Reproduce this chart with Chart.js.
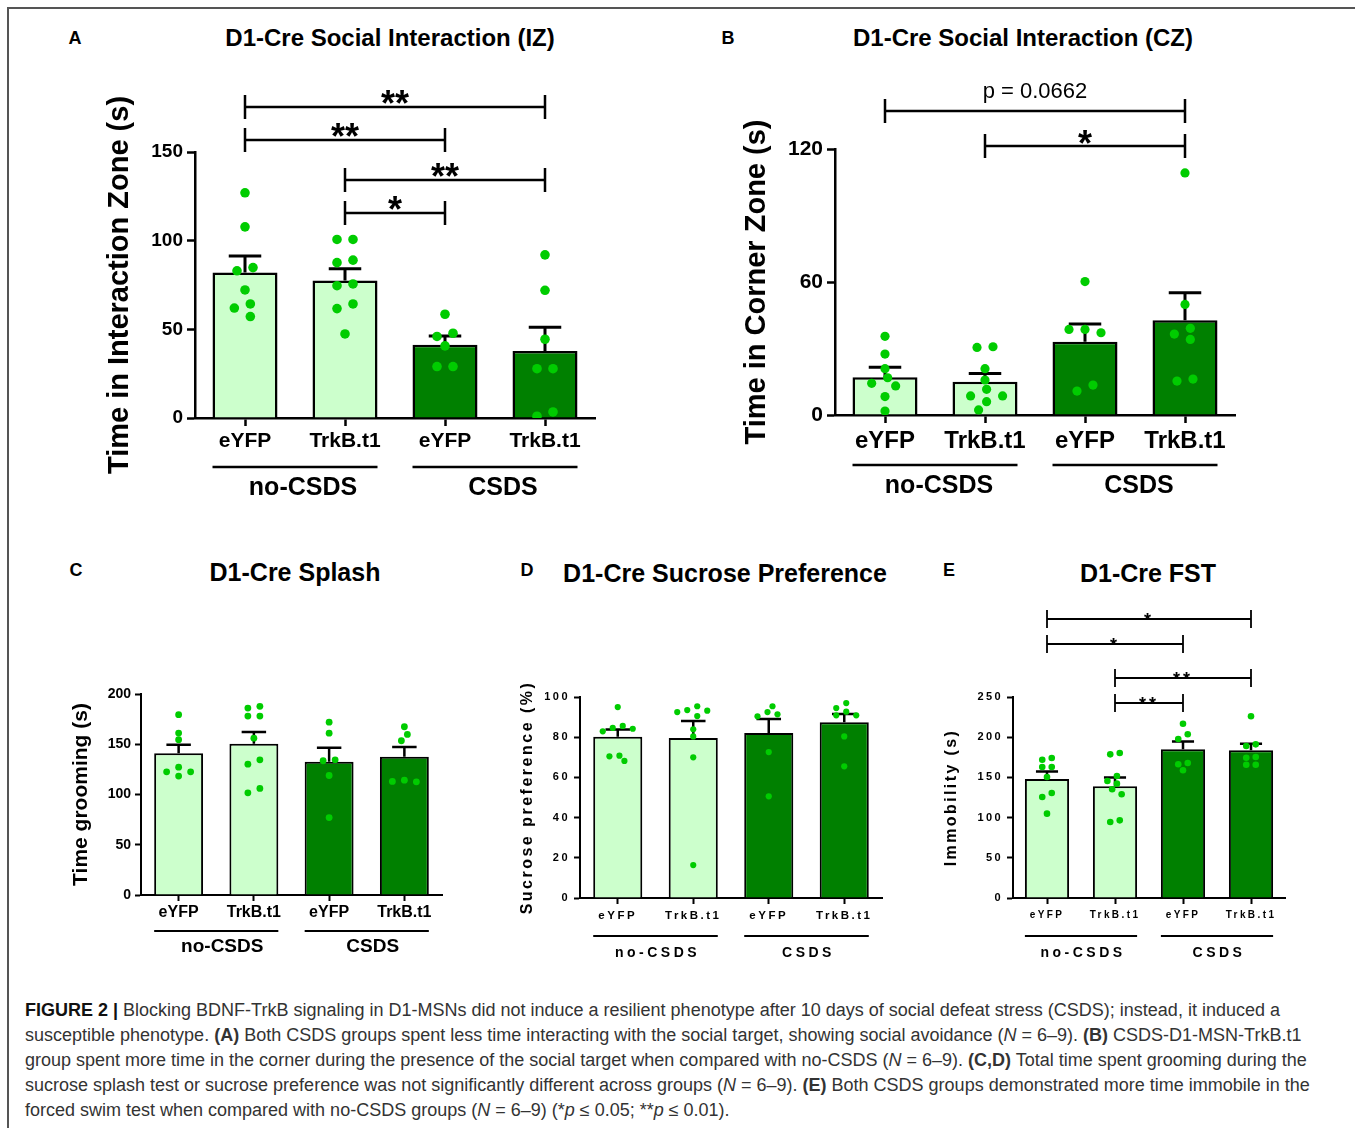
<!DOCTYPE html>
<html>
<head>
<meta charset="utf-8">
<script src="https://cdn.jsdelivr.net/npm/chart.js@4.4.0/dist/chart.umd.min.js"></script>
<style>
  body { margin: 0; width: 1355px; height: 1128px; background: #fff; position: relative; overflow: hidden;
         font-family: "Liberation Sans", Arial, sans-serif; }
  .frame { position: absolute; left: 7px; top: 7px; width: 1400px; height: 1200px;
           border-top: 2px solid #555; border-left: 2px solid #555; }
  canvas { position: absolute; }
  .t { position: absolute; font-weight: bold; color: #000; white-space: nowrap; transform: translate(-50%, -50%); }
  .cap { position: absolute; left: 25px; top: 998px; font-size: 18px; line-height: 25px; color: #333; white-space: nowrap; }
</style>
</head>
<body>
<div class="frame"></div>

<div class="t" style="left:75px;top:38px;font-size:18px">A</div>
<div class="t" style="left:390px;top:38px;font-size:24px">D1-Cre Social Interaction (IZ)</div>
<div class="t" style="left:728px;top:38px;font-size:18px">B</div>
<div class="t" style="left:1023px;top:38px;font-size:24px">D1-Cre Social Interaction (CZ)</div>
<div class="t" style="left:76px;top:570px;font-size:18px">C</div>
<div class="t" style="left:295px;top:572px;font-size:25px">D1-Cre Splash</div>
<div class="t" style="left:527px;top:570px;font-size:18px">D</div>
<div class="t" style="left:725px;top:573px;font-size:25px">D1-Cre Sucrose Preference</div>
<div class="t" style="left:949px;top:570px;font-size:18px">E</div>
<div class="t" style="left:1148px;top:573px;font-size:25px">D1-Cre FST</div>

<canvas id="cA" width="560" height="450" style="left:60px;top:60px"></canvas>
<canvas id="cB" width="580" height="450" style="left:700px;top:60px"></canvas>
<canvas id="cC" width="420" height="330" style="left:40px;top:640px"></canvas>
<canvas id="cD" width="400" height="330" style="left:500px;top:640px"></canvas>
<canvas id="cE" width="410" height="390" style="left:930px;top:580px"></canvas>

<div class="cap">
<b style="color:#111">FIGURE 2 |</b> Blocking BDNF-TrkB signaling in D1-MSNs did not induce a resilient phenotype after 10 days of social defeat stress (CSDS); instead, it induced a<br>
susceptible phenotype. <b>(A)</b> Both CSDS groups spent less time interacting with the social target, showing social avoidance (<i>N</i> = 6–9). <b>(B)</b> CSDS-D1-MSN-TrkB.t1<br>
group spent more time in the corner during the presence of the social target when compared with no-CSDS (<i>N</i> = 6–9). <b>(C,D)</b> Total time spent grooming during the<br>
sucrose splash test or sucrose preference was not significantly different across groups (<i>N</i> = 6–9). <b>(E)</b> Both CSDS groups demonstrated more time immobile in the<br>
forced swim test when compared with no-CSDS groups (<i>N</i> = 6–9) (*<i>p</i> ≤ 0.05; **<i>p</i> ≤ 0.01).
</div>

<script>
const FONT = '"Liberation Sans", Arial, sans-serif';

const categories = ['eYFP', 'TrkB.t1', 'eYFP', 'TrkB.t1'];
const groupNames = ['no-CSDS', 'CSDS'];

// A - time in interaction zone
const izMean = [82, 77.5, 41.3, 37.8];
const izSem = [9.4, 6.6, 5, 13.4];
const izPoints = [
  [127, 107.8, 84.8, 83, 72.2, 64.3, 62, 57.2],
  [100.7, 100.7, 89, 87.6, 75.6, 74.6, 64.3, 61.7, 47.4],
  [58.5, 47.8, 46, 40.7, 29, 29],
  [92, 72, 44.4, 27.8, 27.8, 3.4, 1]
];
const izBrackets = [[0, 3, 175.6, '**'], [0, 2, 156.8, '**'], [1, 3, 134.2, '**'], [1, 2, 115.8, '*']];

// B - time in corner zone
const czMean = [17, 15, 33, 42.7];
const czSem = [4.5, 3.7, 8, 12.5];
const czPoints = [
  [35.5, 27.5, 20.9, 16.8, 14.3, 13.1, 8.3, 1.8],
  [30.8, 30.5, 20.9, 15.8, 11.6, 8.6, 8.6, 6, 2.3],
  [60.2, 38.6, 38.6, 37.1, 13.5, 10.8],
  [109.2, 49.9, 39.1, 36.5, 34.1, 16.2, 15.3]
];
const czBrackets = [[0, 3, 137.3, 'p = 0.0662'], [1, 3, 121.5, '*']];

// C - splash, time grooming
const groomMean = [141, 150.5, 132.5, 137.5];
const groomSem = [8.5, 11.8, 14, 9.8];
const groomPoints = [
  [179.4, 161.1, 154.5, 127.2, 122.6, 122.6, 118.3],
  [187.7, 186, 178, 178, 156, 134.5, 130.2, 106, 101.7],
  [172, 161, 134.5, 133.6, 118.9, 77],
  [167.4, 159.8, 153.5, 114.3, 113, 112.6]
];

// D - sucrose preference
const sucMean = [80.2, 79.6, 82.1, 87.4];
const sucSem = [3.6, 8.5, 7, 4.2];
const sucPoints = [
  [95, 85.6, 84.6, 84.2, 82.9, 70.8, 70.5, 68.2],
  [95.4, 93.5, 93.2, 92.5, 90.5, 83.9, 80.4, 70, 16.4],
  [95.4, 92.5, 91.4, 90.4, 72.6, 50.6],
  [97, 94.5, 92.7, 90.9, 90.9, 80.4, 65.5]
];

// E - forced swim, immobility
const fstMean = [148, 139, 185, 183.8];
const fstSem = [9.2, 11, 9.5, 8.2];
const fstPoints = [
  [174.1, 172, 163, 163, 150.5, 130.6, 125.6, 104.9],
  [180.3, 178.7, 151.7, 145.5, 142.2, 135.2, 129, 96.6, 94.5],
  [216.8, 203.6, 197.8, 167.9, 166.3, 158.8],
  [226, 191.1, 189, 175.4, 174.5, 165.8, 165.8]
];
const fstBrackets = [[0, 3, 346.6, '*'], [0, 2, 316.4, '*'], [1, 3, 274.1, '**'], [1, 2, 243, '**']];

// spread the dots of each column sideways (simple beeswarm)
const swarm = {
  id: 'swarm',
  afterDatasetsUpdate(chart, args, o) {
    const ds = chart.data.datasets[1];
    const meta = chart.getDatasetMeta(1);
    const cols = {};
    meta.data.forEach((el, i) => {
      const k = ds.data[i].x;
      (cols[k] = cols[k] || []).push(el);
    });
    Object.values(cols).forEach(col => {
      col.sort((a, b) => a.y - b.y);
      const placed = [];
      col.forEach(el => {
        let off = 0;
        for (let k = 0; k < 40; k++) {
          off = (k % 2 ? -1 : 1) * Math.ceil(k / 2) * o.gap / 2;
          if (placed.every(p => ((p.off - off) / o.gap) ** 2 + ((p.y - el.y) / o.dy) ** 2 >= 1)) break;
        }
        placed.push({ el, y: el.y, off });
      });
      let chain = [placed[0]];
      const flush = () => {
        const m = chain.reduce((s, p) => s + p.off, 0) / chain.length;
        chain.forEach(p => { p.el.x += p.off - m; });
      };
      for (let k = 1; k < placed.length; k++) {
        if (placed[k].y - placed[k - 1].y < o.dy) chain.push(placed[k]);
        else { flush(); chain = [placed[k]]; }
      }
      flush();
    });
  }
};

// error bars, significance brackets, group lines
const decor = {
  id: 'decor',
  beforeDraw(chart, args, o) {
    chart.ctx.letterSpacing = o.ls;
  },
  afterDatasetDraw(chart, args, o) {
    if (args.index !== 0) return;
    const ctx = chart.ctx, y = chart.scales.y, ds = chart.data.datasets[0];
    ctx.save();
    ctx.strokeStyle = '#000';
    ctx.lineWidth = o.ew;
    chart.getDatasetMeta(0).data.forEach((bar, i) => {
      const top = y.getPixelForValue(ds.data[i] + o.sem[i]);
      const h = bar.width / 4;
      ctx.beginPath();
      ctx.moveTo(bar.x, bar.y);
      ctx.lineTo(bar.x, top);
      ctx.moveTo(bar.x - h, top);
      ctx.lineTo(bar.x + h, top);
      ctx.stroke();
    });
    ctx.restore();
  },
  afterDraw(chart, args, o) {
    const ctx = chart.ctx, y = chart.scales.y;
    const bars = chart.getDatasetMeta(0).data;
    const bottom = chart.chartArea.bottom;
    ctx.save();
    ctx.strokeStyle = '#000';
    ctx.fillStyle = '#000';
    ctx.textAlign = 'center';
    o.brackets.forEach(([a, b, v, label]) => {
      const py = Math.round(y.getPixelForValue(v));
      const x1 = bars[a].x, x2 = bars[b].x;
      ctx.lineWidth = o.blw;
      ctx.beginPath();
      ctx.moveTo(x1, py); ctx.lineTo(x2, py);
      ctx.moveTo(x1, py - o.bt); ctx.lineTo(x1, py + o.bt);
      ctx.moveTo(x2, py - o.bt); ctx.lineTo(x2, py + o.bt);
      ctx.stroke();
      const star = /^\*+$/.test(label);
      ctx.font = star ? o.starFont : o.pFont;
      ctx.letterSpacing = star ? o.starLs : '0px';
      ctx.textBaseline = 'alphabetic';
      ctx.fillText(label, (x1 + x2) / 2, py + (star ? o.starDy : o.pDy));
    });
    groupNames.forEach((g, k) => {
      const b0 = bars[2 * k], b1 = bars[2 * k + 1];
      const l = b0.x - b0.width / 2, r = b1.x + b1.width / 2;
      ctx.lineWidth = o.glw;
      ctx.beginPath();
      ctx.moveTo(l, bottom + o.gLine);
      ctx.lineTo(r, bottom + o.gLine);
      ctx.stroke();
      ctx.font = o.gFont;
      ctx.letterSpacing = o.gLs;
      ctx.textBaseline = 'middle';
      ctx.fillText(g, (l + r) / 2 + o.gDx, bottom + o.gText);
    });
    ctx.restore();
  }
};

function makePanel(id, d, st) {
  const pts = [];
  d.points.forEach((col, i) => col.forEach(v => pts.push({ x: i, y: v })));
  const bold = size => ({ family: FONT, weight: 'bold', size });
  return new Chart(document.getElementById(id), {
    type: 'bar',
    data: {
      labels: categories,
      datasets: [
        {
          data: d.mean, order: 1, grouped: false,
          backgroundColor: ['#ccffcc', '#ccffcc', '#008000', '#008000'],
          borderColor: '#000', borderWidth: st.bw,
          barPercentage: 0.65, categoryPercentage: 1
        },
        {
          type: 'scatter', data: pts, order: 0, xAxisID: 'xp',
          backgroundColor: '#00cc00', borderWidth: 0,
          pointRadius: st.r, pointHoverRadius: st.r
        }
      ]
    },
    options: {
      responsive: false,
      animation: false,
      events: [],
      devicePixelRatio: 1,
      layout: { padding: { top: st.padTop, right: st.padRight, left: 0, bottom: 0 } },
      plugins: {
        legend: { display: false },
        tooltip: { enabled: false },
        swarm: { gap: st.gap, dy: st.dy },
        decor: {
          ls: st.ls, sem: d.sem, ew: st.ew,
          brackets: d.brackets || [], blw: st.blw, bt: st.bt,
          starFont: st.starFont, starLs: st.starLs, starDy: st.starDy,
          pFont: '22px ' + FONT, pDy: -13.5,
          glw: st.aw, gLine: st.gLine, gText: st.gText, gDx: st.gDx,
          gFont: 'bold ' + st.gSize + 'px ' + FONT, gLs: st.gLs
        }
      },
      scales: {
        x: {
          offset: true,
          border: { color: '#000', width: st.aw },
          grid: { offset: false, drawOnChartArea: false, tickLength: st.tl, tickWidth: st.aw, tickColor: '#000' },
          ticks: { color: '#000', font: bold(st.xSize), padding: st.xPad, autoSkip: false, maxRotation: 0 },
          afterFit: s => { s.height = st.xh; }
        },
        xp: {
          type: 'linear', display: false, offset: false, min: -0.5, max: 3.5,
          grid: { offset: false }
        },
        y: {
          min: 0, max: st.ymax,
          border: { color: '#000', width: st.aw },
          grid: { drawOnChartArea: false, tickLength: st.tl, tickWidth: st.aw, tickColor: '#000' },
          ticks: { stepSize: st.step, color: '#000', font: bold(st.tickSize), padding: 4 },
          title: {
            display: true, text: st.yTitle, color: '#000', font: bold(st.titleSize),
            padding: { top: st.titlePad, bottom: 0 }
          },
          afterFit: s => { s.width = st.yw; }
        }
      }
    },
    plugins: [swarm, decor]
  });
}

makePanel('cA', { mean: izMean, sem: izSem, points: izPoints, brackets: izBrackets }, {
  padTop: 92, padRight: 25, yw: 135, xh: 92, ymax: 150, step: 50,
  yTitle: 'Time in Interaction Zone (s)', titleSize: 29, titlePad: 42.6,
  tickSize: 19, xSize: 21, xPad: 2.4, tl: 8, aw: 2.5, bw: 2.5, ew: 3, r: 4.8,
  gap: 16, dy: 9, ls: '0px',
  blw: 2.5, bt: 12, starFont: 'bold 36px ' + FONT, starLs: '0px', starDy: 9,
  gLine: 49, gText: 70, gSize: 25, gLs: '0px', gDx: 8
});

makePanel('cB', { mean: czMean, sem: czSem, points: czPoints, brackets: czBrackets }, {
  padTop: 89, padRight: 45, yw: 135, xh: 95, ymax: 120, step: 60,
  yTitle: 'Time in Corner Zone (s)', titleSize: 29, titlePad: 39.6,
  tickSize: 21, xSize: 24, xPad: 3.6, tl: 8, aw: 2.5, bw: 2.5, ew: 3, r: 4.6,
  gap: 16, dy: 9, ls: '0px',
  blw: 2.5, bt: 12, starFont: 'bold 36px ' + FONT, starLs: '0px', starDy: 10,
  gLine: 50, gText: 71, gSize: 25, gLs: '0px', gDx: 4
});

makePanel('cC', { mean: groomMean, sem: groomSem, points: groomPoints }, {
  padTop: 54, padRight: 18, yw: 101, xh: 75, ymax: 200, step: 50,
  yTitle: 'Time grooming (s)', titleSize: 21, titlePad: 28.4,
  tickSize: 14, xSize: 16, xPad: 2.4, tl: 6, aw: 2, bw: 2, ew: 2.5, r: 3.4,
  gap: 12, dy: 6.5, ls: '0px',
  blw: 2, bt: 9, starFont: 'bold 18px ' + FONT, starLs: '0px', starDy: 6,
  gLine: 36, gText: 52, gSize: 19, gLs: '0px', gDx: 6
});

makePanel('cD', { mean: sucMean, sem: sucSem, points: sucPoints }, {
  padTop: 57, padRight: 18, yw: 80, xh: 72, ymax: 100, step: 20,
  yTitle: 'Sucrose preference (%)', titleSize: 16, titlePad: 18,
  tickSize: 11, xSize: 11.5, xPad: 5, tl: 6, aw: 2, bw: 2, ew: 2.5, r: 3.1,
  gap: 10, dy: 6, ls: '2.5px',
  blw: 2, bt: 9, starFont: 'bold 18px ' + FONT, starLs: '3px', starDy: 6.5,
  gLine: 38, gText: 55, gSize: 14, gLs: '3.5px', gDx: 2
});

makePanel('cE', { mean: fstMean, sem: fstSem, points: fstPoints, brackets: fstBrackets }, {
  padTop: 117, padRight: 55, yw: 83, xh: 72, ymax: 250, step: 50,
  yTitle: 'Immobility (s)', titleSize: 16, titlePad: 12,
  tickSize: 11, xSize: 10, xPad: 5, tl: 6, aw: 2, bw: 2, ew: 2.5, r: 3.3,
  gap: 9.5, dy: 6, ls: '2.4px',
  blw: 1.8, bt: 9, starFont: 'bold 18px ' + FONT, starLs: '3px', starDy: 6.5,
  gLine: 38, gText: 55, gSize: 14, gLs: '3.5px', gDx: 2
});
</script>
</body>
</html>
